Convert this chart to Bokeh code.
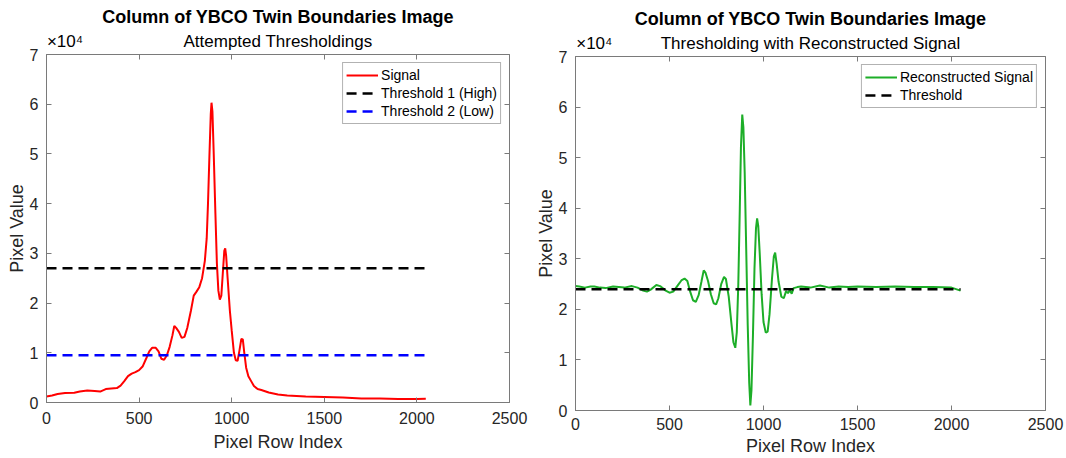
from bokeh.plotting import figure
from bokeh.models import Range1d, FixedTicker, LinearAxis, Legend, LegendItem, Title
from bokeh.layouts import row, column
from bokeh.embed import file_html
from bokeh.resources import INLINE

# ---------------- data ----------------
sig_x = [0, 30, 60, 100, 150, 180, 220, 260, 290, 320, 350, 380, 400, 420, 440, 460, 480, 500,
         520, 540, 555, 570, 590, 605, 620, 635, 650, 665, 680, 690, 700, 715, 730, 745, 760,
         780, 795, 810, 825, 840, 855, 865, 872, 880, 887, 891, 896, 903, 912, 920, 928, 936,
         944, 952, 960, 965, 970, 978, 990, 1000, 1012, 1022, 1032, 1042, 1052, 1060, 1068,
         1078, 1090, 1105, 1120, 1140, 1160, 1200, 1250, 1300, 1350, 1400, 1500, 1600, 1700,
         1800, 1900, 2000, 2048]
sig_y = [1200, 1400, 1700, 1900, 1950, 2200, 2400, 2300, 2200, 2700, 2800, 2900, 3400, 4300,
         5300, 5800, 6100, 6500, 7300, 9000, 10300, 11000, 11000, 10300, 8800, 8600, 9500,
         11200, 13500, 15400, 15000, 14200, 13000, 13200, 15000, 18500, 21500, 22300, 23200,
         25000, 28500, 33000, 40000, 50000, 58000, 60300, 58500, 50000, 38000, 28000, 22500,
         20700, 21500, 26000, 30500, 31000, 29500, 25000, 18500, 14500, 10000, 8500, 8400,
         10500, 12800, 12700, 10000, 7000, 5300, 4300, 3300, 2700, 2500, 2000, 1600, 1400,
         1300, 1200, 1100, 1000, 800, 800, 700, 700, 750]

rec_x = [0, 20, 50, 80, 100, 130, 160, 200, 230, 260, 300, 330, 360, 380, 400, 430, 450, 480,
         500, 520, 545, 565, 580, 595, 610, 625, 640, 655, 670, 682, 692, 705, 720, 735, 748,
         760, 775, 790, 800, 815, 830, 840, 850, 858, 866, 874, 880, 887, 893, 900, 908, 916,
         924, 930, 936, 944, 952, 960, 966, 972, 980, 990, 1000, 1012, 1022, 1032, 1045, 1055,
         1062, 1070, 1080, 1095, 1108, 1120, 1130, 1140, 1150, 1160, 1180, 1200, 1250, 1300,
         1350, 1400, 1450, 1500, 1600, 1700, 1800, 1900, 2000, 2048]
rec_y = [24600, 24500, 24300, 24500, 24500, 24300, 24200, 24500, 24400, 24300, 24600, 24300,
         23700, 23500, 23900, 24800, 24600, 23700, 23300, 23500, 24800, 25800, 26100, 25600,
         23500, 21800, 21500, 22800, 25500, 27700, 27200, 25600, 23000, 21200, 21000, 22200,
         25000, 26400, 26000, 22500, 17000, 13500, 12400, 15500, 25000, 40000, 52000, 58500,
         56000, 47000, 32000, 17000, 5500, 1000, 4000, 15000, 28000, 36000, 38000, 36500,
         31000, 23000, 17500, 15400, 15600, 19000, 26000, 30500, 31200, 29000, 25500, 22500,
         22200, 23600, 23200, 23800, 23100, 24200, 24400, 24500, 24300, 24700, 24300, 24500,
         24400, 24500, 24400, 24500, 24400, 24400, 24300, 23700]

thr_high = 27000
thr_low = 9500
thr_rec = 24000
thr_x = [0, 2048]

x_ticks = [0, 500, 1000, 1500, 2000, 2500]
y_ticks = [0, 10000, 20000, 30000, 40000, 50000, 60000, 70000]
y_tick_labels = ["0", "1", "2", "3", "4", "5", "6", "7"]

title_main = "Column of YBCO Twin Boundaries Image"
sub_left = "Attempted Thresholdings"
sub_right = "Thresholding with Reconstructed Signal"
exponent = "\u00d710\u2074"
exponent_x = 100
x_label = "Pixel Row Index"
y_label = "Pixel Value"

FONT = "Liberation Sans"
TXT = "#262626"
BOX = "#7a7a7a"


def make_fig(width, height, bl, br, bt, bb, sub, tick_so, lab_so):
    p = figure(width=width, height=height, output_backend="svg", toolbar_location=None,
               x_range=Range1d(0, 2500), y_range=Range1d(0, 70000),
               min_border_left=bl, min_border_right=br, min_border_top=bt, min_border_bottom=bb,
               x_axis_label=x_label, y_axis_label=y_label)
    p.grid.visible = False
    p.outline_line_color = BOX
    p.outline_line_width = 1
    p.background_fill_color = "white"
    p.border_fill_color = "white"

    xa = p.xaxis[0]
    ya = p.yaxis[0]
    xa.ticker = FixedTicker(ticks=x_ticks)
    ya.ticker = FixedTicker(ticks=y_ticks)
    ya.major_label_overrides = {t: l for t, l in zip(y_ticks, y_tick_labels)}
    for ax in (xa, ya):
        ax.axis_line_color = BOX
        ax.major_tick_line_color = BOX
        ax.major_tick_in = 5
        ax.major_tick_out = 0
        ax.minor_tick_in = 0
        ax.minor_tick_out = 0
        ax.major_label_text_font = FONT
        ax.major_label_text_font_size = "16px"
        ax.major_label_text_color = TXT
        ax.axis_label_text_font = FONT
        ax.axis_label_text_font_size = "18px"
        ax.axis_label_text_font_style = "normal"
        ax.axis_label_text_color = TXT
    ya.major_label_standoff = 8
    ya.axis_label_standoff = 0
    xa.major_label_standoff = tick_so
    xa.axis_label_standoff = lab_so

    # box ticks on the right
    ra = LinearAxis(ticker=FixedTicker(ticks=y_ticks))
    ra.axis_line_color = None
    ra.major_tick_line_color = BOX
    ra.major_tick_in = 5
    ra.major_tick_out = 0
    ra.minor_tick_in = 0
    ra.minor_tick_out = 0
    ra.major_label_text_font_size = "0px"
    ra.major_label_standoff = 0
    ra.major_label_text_alpha = 0
    p.add_layout(ra, "right")

    # top: box ticks (minor) + exponent and subtitle (major labels)
    ta = LinearAxis(ticker=FixedTicker(ticks=[exponent_x, 1250], minor_ticks=x_ticks))
    ta.major_label_overrides = {exponent_x: exponent, 1250: sub}
    ta.axis_line_color = None
    ta.major_tick_line_color = None
    ta.major_tick_in = 0
    ta.major_tick_out = 0
    ta.minor_tick_line_color = BOX
    ta.minor_tick_in = 5
    ta.minor_tick_out = 0
    ta.major_label_standoff = 4
    ta.major_label_text_font = FONT
    ta.major_label_text_font_size = "17px"
    ta.major_label_text_color = "black"
    p.add_layout(ta, "above")

    p.add_layout(Title(text=title_main, align="center", text_font=FONT, text_font_size="18px",
                       text_font_style="bold", text_color="black", standoff=3), "above")
    return p


def style_legend(p, items):
    leg = Legend(items=items, location="top_right")
    leg.margin = 8
    leg.padding = 3
    leg.spacing = 0
    leg.glyph_width = 32
    leg.glyph_height = 18
    leg.label_height = 18
    leg.label_standoff = 3
    leg.label_text_font = FONT
    leg.label_text_font_size = "14px"
    leg.label_text_color = "black"
    leg.border_line_color = "#666666"
    leg.border_line_width = 1
    leg.background_fill_color = "white"
    leg.background_fill_alpha = 1
    p.add_layout(leg)


# ---------------- left ----------------
p1 = make_fig(532, 458, 46, 23, 54, 56, sub_left, 9, 5)
r_sig = p1.line(sig_x, sig_y, line_color="#FF0000", line_width=2)
r_h = p1.line(thr_x, [thr_high, thr_high], line_color="black", line_width=2.5, line_dash="10 6")
r_l = p1.line(thr_x, [thr_low, thr_low], line_color="#0000FF", line_width=2.5, line_dash="10 6")
style_legend(p1, [LegendItem(label="Signal", renderers=[r_sig]),
                  LegendItem(label="Threshold 1 (High)", renderers=[r_h]),
                  LegendItem(label="Threshold 2 (Low)", renderers=[r_l])])

# ---------------- right ----------------
p2 = make_fig(534, 458, 42, 21, 56, 47, sub_right, 7, 3)
r_rec = p2.line(rec_x, rec_y, line_color="#1DAE28", line_width=2)
r_t = p2.line(thr_x, [thr_rec, thr_rec], line_color="black", line_width=2.5, line_dash="10 6")
style_legend(p2, [LegendItem(label="Reconstructed Signal", renderers=[r_rec]),
                  LegendItem(label="Threshold", renderers=[r_t])])

layout = row(column(p1), column(p2), spacing=0)
open("out.html", "w").write(file_html(layout, INLINE))
